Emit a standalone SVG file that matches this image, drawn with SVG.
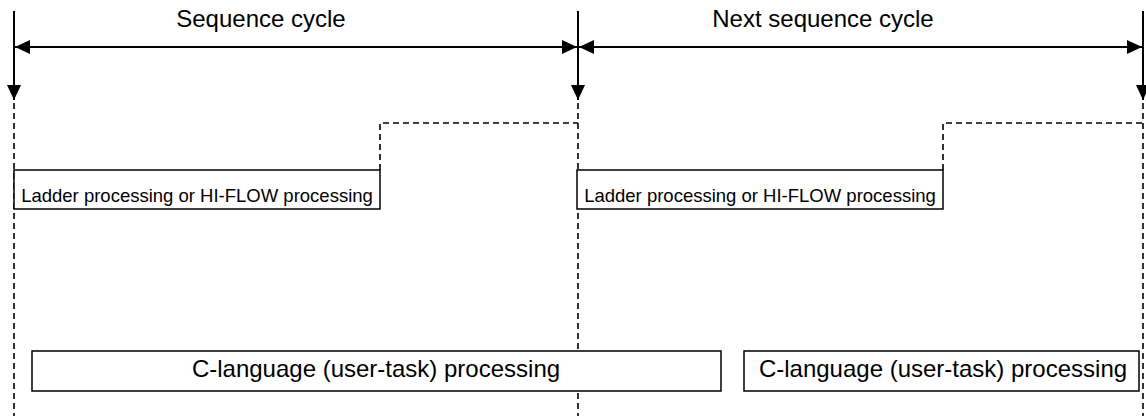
<svg xmlns="http://www.w3.org/2000/svg" width="1146" height="416" viewBox="0 0 1146 416">
<style>
.solid{stroke:#000;stroke-width:2;fill:none}
.dash{stroke:#000;stroke-width:1.6;fill:none;stroke-dasharray:6 4}
.box{stroke:#000;stroke-width:1.5;fill:#fff}
text{font-family:"Liberation Sans",Arial,sans-serif;fill:#000}
.t24{font-size:24px}
.t18{font-size:18.5px}
</style>
<defs>
<marker id="ah" viewBox="0 0 15 14" refX="15" refY="7" markerWidth="15" markerHeight="14" markerUnits="userSpaceOnUse" orient="auto">
<path d="M0,0 L15,7 L0,14 Z" fill="#000"/>
</marker>
</defs>
<rect width="1146" height="416" fill="#fff"/>
<g id="connectors">
<line class="dash" x1="14" y1="103" x2="14" y2="416"/>
<line class="dash" x1="578" y1="103" x2="578" y2="416"/>
<line class="dash" x1="1143" y1="103" x2="1143" y2="416"/>
<polyline class="dash" points="380,170 380,123 578,123"/>
<polyline class="dash" points="943,170 943,123 1143,123"/>
<line class="solid" x1="14" y1="11" x2="14" y2="100" marker-end="url(#ah)"/>
<line class="solid" x1="578" y1="11" x2="578" y2="100" marker-end="url(#ah)"/>
<line class="solid" x1="1143" y1="11" x2="1143" y2="100" marker-end="url(#ah)"/>
<line class="solid" x1="296" y1="47" x2="15" y2="47" marker-end="url(#ah)"/>
<line class="solid" x1="296" y1="47" x2="577" y2="47" marker-end="url(#ah)"/>
<line class="solid" x1="860" y1="47" x2="579" y2="47" marker-end="url(#ah)"/>
<line class="solid" x1="860" y1="47" x2="1142" y2="47" marker-end="url(#ah)"/>
</g>
<g id="label-sequence-cycle">
<text class="t24" x="261" y="27" text-anchor="middle">Sequence cycle</text>
</g>
<g id="label-next-sequence-cycle">
<text class="t24" x="823" y="27" text-anchor="middle">Next sequence cycle</text>
</g>
<g id="ladder-1">
<rect class="box" x="14" y="170" width="366" height="39"/>
<text class="t18" x="197" y="202" text-anchor="middle">Ladder processing or HI-FLOW processing</text>
</g>
<g id="ladder-2">
<rect class="box" x="577" y="170" width="366" height="39"/>
<text class="t18" x="760" y="202" text-anchor="middle">Ladder processing or HI-FLOW processing</text>
</g>
<g id="c-lang-1">
<rect class="box" x="32" y="351" width="689" height="40"/>
<text class="t24" x="376" y="377" text-anchor="middle">C-language (user-task) processing</text>
</g>
<g id="c-lang-2">
<rect class="box" x="744" y="351" width="395" height="40"/>
<text class="t24" x="943" y="377" text-anchor="middle">C-language (user-task) processing</text>
</g>
</svg>
